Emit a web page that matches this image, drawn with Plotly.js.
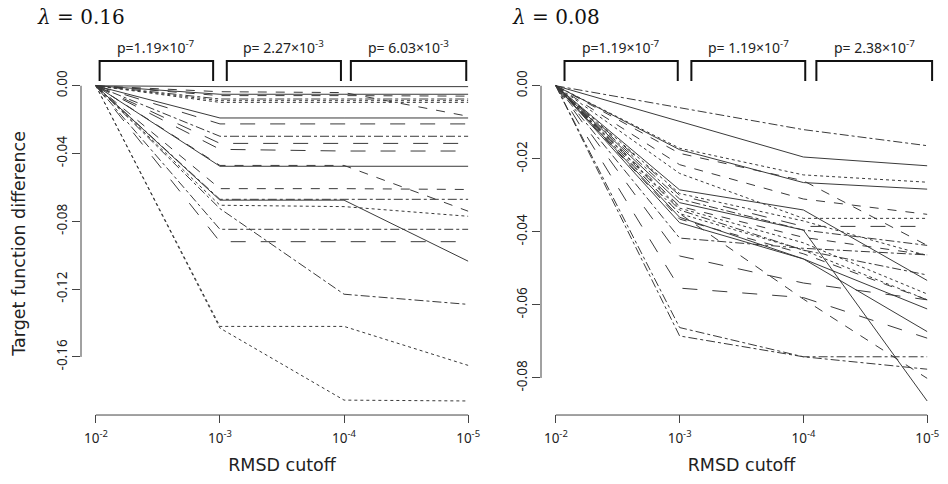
<!DOCTYPE html>
<html>
<head>
<meta charset="utf-8">
<script src="https://cdn.plot.ly/plotly-3.0.1.min.js"></script>
<style>html,body{margin:0;padding:0;background:#fff;}#chart{width:948px;height:484px;}</style>
</head>
<body>
<div id="chart"></div>
<script>
// RMSD cutoffs (x)
const cutoffs = [1e-2, 1e-3, 1e-4, 1e-5];
const cutoffLabels = ['10<sup>-2</sup>', '10<sup>-3</sup>', '10<sup>-4</sup>', '10<sup>-5</sup>'];

// lambda = 0.16 panel: target function difference per run
const lambda016 = [
  [0, -0.0005, -0.0005, -0.0005],
  [0, -0.0035, -0.0040, -0.0180],
  [0, -0.0050, -0.0050, -0.0050],
  [0, -0.0058, -0.0058, -0.0061],
  [0, -0.0078, -0.0078, -0.0078],
  [0, -0.0088, -0.0088, -0.0088],
  [0, -0.0098, -0.0098, -0.0098],
  [0, -0.0190, -0.0190, -0.0190],
  [0, -0.0225, -0.0225, -0.0225],
  [0, -0.0298, -0.0298, -0.0298],
  [0, -0.0340, -0.0340, -0.0340],
  [0, -0.0375, -0.0385, -0.0385],
  [0, -0.0475, -0.0475, -0.0475],
  [0, -0.0470, -0.0470, -0.0740],
  [0, -0.0607, -0.0607, -0.0612],
  [0, -0.0670, -0.0670, -0.0670],
  [0, -0.0675, -0.0675, -0.1035],
  [0, -0.0705, -0.0713, -0.0770],
  [0, -0.0725, -0.1230, -0.1290],
  [0, -0.0847, -0.0847, -0.0847],
  [0, -0.0920, -0.0920, -0.0920],
  [0, -0.1420, -0.1420, -0.1650],
  [0, -0.1430, -0.1855, -0.1860]
];
const lambda016Dash = ['solid','dash','solid','dash','dashdot','dot','dot','solid','longdash','dashdot','longdash','longdash','solid','dash','dash','dashdot','solid','dot','dashdot','dashdot','longdash','dot','dot'];

// lambda = 0.08 panel
const lambda008 = [
  [0, -0.0061, -0.0120, -0.0164],
  [0, -0.0097, -0.0195, -0.0219],
  [0, -0.0171, -0.0244, -0.0264],
  [0, -0.0175, -0.0265, -0.0283],
  [0, -0.0216, -0.0310, -0.0352],
  [0, -0.0240, -0.0363, -0.0363],
  [0, -0.0185, -0.0260, -0.0437],
  [0, -0.0285, -0.0340, -0.0533],
  [0, -0.0300, -0.0385, -0.0385],
  [0, -0.0295, -0.0370, -0.0465],
  [0, -0.0310, -0.0395, -0.0437],
  [0, -0.0320, -0.0395, -0.0863],
  [0, -0.0330, -0.0415, -0.0463],
  [0, -0.0335, -0.0430, -0.0570],
  [0, -0.0340, -0.0450, -0.0518],
  [0, -0.0350, -0.0450, -0.0586],
  [0, -0.0360, -0.0474, -0.0611],
  [0, -0.0365, -0.0460, -0.0586],
  [0, -0.0375, -0.0474, -0.0673],
  [0, -0.0350, -0.0584, -0.0801],
  [0, -0.0417, -0.0445, -0.0463],
  [0, -0.0466, -0.0540, -0.0586],
  [0, -0.0554, -0.0580, -0.0691],
  [0, -0.0662, -0.0742, -0.0742],
  [0, -0.0685, -0.0742, -0.0776]
];
const lambda008Dash = ['dashdot','solid','dot','solid','dash','dot','dash','solid','longdash','dot','dashdot','solid','dash','dot','dashdot','dot','solid','dash','solid','dash','dashdot','longdash','longdash','dashdot','dashdot'];

const leftTicks = [0, -0.04, -0.08, -0.12, -0.16];
const leftTickText = ['0.00', '-0.04', '-0.08', '-0.12', '-0.16'];
const rightTicks = [0, -0.02, -0.04, -0.06, -0.08];
const rightTickText = ['0.00', '-0.02', '-0.04', '-0.06', '-0.08'];

const panelTitles = ['<i>λ</i> = 0.16', '<i>λ</i> = 0.08'];
const pLeft = ['p=1.19×10<sup>-7</sup>', 'p= 2.27×10<sup>-3</sup>', 'p= 6.03×10<sup>-3</sup>'];
const pRight = ['p=1.19×10<sup>-7</sup>', 'p= 1.19×10<sup>-7</sup>', 'p= 2.38×10<sup>-7</sup>'];

const lineColor = '#3a3a3a';
const traces = [];
lambda016.forEach((vals, i) => traces.push({
  x: cutoffs, y: vals, xaxis: 'x', yaxis: 'y', mode: 'lines', type: 'scatter',
  line: {color: lineColor, width: 1, dash: lambda016Dash[i]}, hoverinfo: 'skip', showlegend: false
}));
lambda008.forEach((vals, i) => traces.push({
  x: cutoffs, y: vals, xaxis: 'x2', yaxis: 'y2', mode: 'lines', type: 'scatter',
  line: {color: lineColor, width: 1, dash: lambda008Dash[i]}, hoverinfo: 'skip', showlegend: false
}));

const font = 'Noto Sans, Open Sans, sans-serif';
const titleFont = {family: 'DejaVu Sans, Noto Sans, sans-serif', size: 17.5, color: '#222'};
const yDomain = [0.1455, 0.8488];
const xlogRange = [Math.log10(cutoffs[0]) + 0.12, Math.log10(cutoffs[3]) - 0.12];
const tickFont = {family: font, size: 13.5, color: '#222'};

function xaxisDef(domain) {
  return {domain: domain, type: 'log', range: xlogRange, showline: false, showgrid: false, zeroline: false,
    ticks: 'outside', ticklen: 8, tickwidth: 1, tickcolor: '#444', tickvals: cutoffs, ticktext: cutoffLabels,
    ticklabelstandoff: 4,
    tickfont: tickFont, title: {text: 'RMSD cutoff', font: titleFont, standoff: 12}};
}
function yaxisDef(range, tv, tt, title) {
  return {domain: yDomain, range: range, showline: false, showgrid: false, zeroline: false,
    ticks: 'outside', ticklen: 8, tickwidth: 1, tickcolor: '#444', tickvals: tv, ticktext: tt, tickangle: -90,
    tickfont: tickFont, title: {text: title, font: titleFont, standoff: 22}};
}

const leftMin = Math.min(...lambda016.flat());
const rightMin = Math.min(...lambda008.flat());
const leftPad = -leftMin * 0.04, rightPad = -rightMin * 0.04;

const shapes = [];
const annotations = [];
const axisPairs = [['x', 'y', leftTicks, pLeft, [[-2.03,-2.945],[-3.055,-3.975],[-4.055,-4.985]]],
                   ['x2', 'y2', rightTicks, pRight, [[-2.07,-2.985],[-3.095,-4.015],[-4.105,-5.04]]]];
axisPairs.forEach(([xa, ya, ticks, ptexts, brackets], k) => {
  // R-style axis lines spanning the tick range
  shapes.push({type: 'line', xref: xa, yref: 'paper', x0: cutoffs[0], x1: cutoffs[3], y0: yDomain[0] - 0.003, y1: yDomain[0] - 0.003, line: {color: '#444', width: 1}});
  shapes.push({type: 'line', xref: xa + ' domain', yref: ya, x0: 0, x1: 0, y0: ticks[0], y1: ticks[ticks.length - 1], line: {color: '#444', width: 1}});
  brackets.forEach((b, j) => {
    const xa0 = Math.pow(10, b[0]), xa1 = Math.pow(10, b[1]);
    shapes.push({type: 'path', xref: xa, yref: 'paper',
      path: `M ${xa0},0.8326 L ${xa0},0.874 L ${xa1},0.874 L ${xa1},0.8326`,
      line: {color: '#111', width: 2}});
    annotations.push({xref: xa, yref: 'paper', x: (b[0] + b[1]) / 2, y: 0.903, text: ptexts[j], showarrow: false,
      font: {family: font, size: 14, color: '#222'}, xanchor: 'center', yanchor: 'middle'});
  });
});
// panel titles
const titleFontSpec = {family: 'DejaVu Serif, Liberation Serif, serif', size: 20, color: '#111'};
annotations.push({xref: 'paper', yref: 'paper', x: 35 / 948, y: 1 - 17 / 484, text: panelTitles[0], showarrow: false,
  xanchor: 'left', yanchor: 'middle', font: titleFontSpec});
annotations.push({xref: 'paper', yref: 'paper', x: 510 / 948, y: 1 - 17 / 484, text: panelTitles[1], showarrow: false,
  xanchor: 'left', yanchor: 'middle', font: titleFontSpec});

const layout = {
  width: 948, height: 484, margin: {l: 0, r: 0, t: 0, b: 0},
  paper_bgcolor: '#fff', plot_bgcolor: '#fff', showlegend: false,
  xaxis: xaxisDef([81 / 948, 483 / 948]),
  xaxis2: xaxisDef([541 / 948, 942 / 948]),
  yaxis: yaxisDef([leftMin - leftPad, leftPad], leftTicks, leftTickText, 'Target function difference'),
  yaxis2: Object.assign(yaxisDef([rightMin - rightPad, rightPad], rightTicks, rightTickText, ''), {anchor: 'x2'}),
  shapes: shapes, annotations: annotations
};
layout.xaxis2.anchor = 'y2';
Plotly.newPlot('chart', traces, layout, {displayModeBar: false, staticPlot: true});
</script>
</body>
</html>
